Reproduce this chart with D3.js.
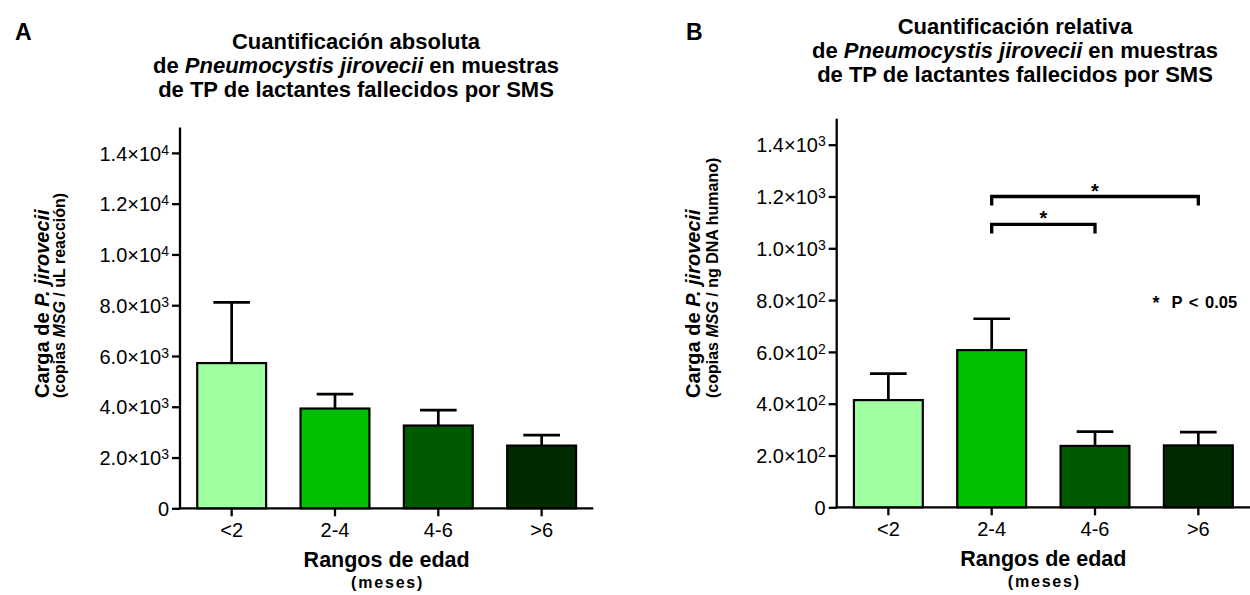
<!DOCTYPE html>
<html>
<head>
<meta charset="utf-8">
<script src="https://cdn.jsdelivr.net/npm/d3@7"></script>
<style>
  body { margin: 0; background: #fff; }
  text { font-family: "Liberation Sans", Arial, sans-serif; fill: #000; }
</style>
</head>
<body>
<svg id="chart" width="1250" height="595"></svg>
<script>
// age ranges (months)
const categories = ["<2", "2-4", "4-6", ">6"];
const barColors = ["rgb(160,255,160)", "rgb(0,192,0)", "rgb(0,90,0)", "rgb(0,42,0)"];

// panel A: absolute quantification (copies MSG / uL reaction)
const absMeans = [5720, 3930, 3260, 2470];
const absUpper = [8110, 4500, 3870, 2880];   // mean + SEM
const absTicks = [0, 2000, 4000, 6000, 8000, 10000, 12000, 14000];

// panel B: relative quantification (copies MSG / ng human DNA)
const relMeans = [414, 607, 237, 239];
const relUpper = [516, 728, 292, 290];
const relTicks = [0, 200, 400, 600, 800, 1000, 1200, 1400];
const relBrackets = [
  { from: "2-4", to: "4-6", level: 1092 },
  { from: "2-4", to: ">6", level: 1200 }
];

const svg = d3.select("#chart");

// "6.0x10^3" style labels, exponent as a real superscript
function sciLabel(sel) {
  sel.each(function (v) {
    const t = d3.select(this).text("");
    if (v === 0) { t.text("0"); return; }
    const e = Math.floor(Math.log10(v));
    const m = (v / Math.pow(10, e)).toFixed(1);
    t.append("tspan").text(m + "×10");
    t.append("tspan").attr("dy", -6).attr("font-size", 14).text(e);
  });
}

function drawPanel(cfg) {
  const { left, right, bottom, top, max, means, upper, ticks } = cfg;

  const x = d3.scaleBand()
    .domain(categories)
    .range([left, right])
    .paddingInner(1 / 3)
    .paddingOuter(1 / 6);

  const y = d3.scaleLinear()
    .domain([0, max])
    .range([bottom, top]);

  const g = svg.append("g");

  // y axis
  const yAxis = g.append("g")
    .attr("transform", `translate(${left},0)`)
    .call(d3.axisLeft(y).tickValues(ticks).tickSize(8).tickPadding(3));
  yAxis.select(".domain").attr("stroke", "#000").attr("stroke-width", 2.3)
    .attr("d", `M0,${top}V${bottom + 1}`);
  yAxis.selectAll(".tick line").attr("stroke", "#000").attr("stroke-width", 2.3);
  yAxis.selectAll(".tick text")
    .attr("font-size", 20).attr("dy", "0.36em")
    .attr("font-family", "Liberation Sans, Arial, sans-serif")
    .call(sciLabel);

  // x axis
  const xAxis = g.append("g")
    .attr("transform", `translate(0,${bottom})`)
    .call(d3.axisBottom(x).tickSize(8));
  xAxis.select(".domain").attr("stroke", "#000").attr("stroke-width", 2.3)
    .attr("d", `M${left - 1},0H${right}`);
  xAxis.selectAll(".tick line").attr("stroke", "#000").attr("stroke-width", 2.3);
  xAxis.selectAll(".tick text")
    .attr("font-size", 20).attr("y", 29).attr("dy", 0)
    .attr("font-family", "Liberation Sans, Arial, sans-serif");

  // error bars (upper only)
  const err = g.append("g").attr("stroke", "#000").attr("stroke-width", 2.7);
  categories.forEach((c, i) => {
    const cx = x(c) + x.bandwidth() / 2;
    const cap = x.bandwidth() * 0.266;
    err.append("line").attr("x1", cx).attr("x2", cx).attr("y1", y(means[i])).attr("y2", y(upper[i]));
    err.append("line").attr("x1", cx - cap).attr("x2", cx + cap).attr("y1", y(upper[i])).attr("y2", y(upper[i]));
  });

  // bars
  g.append("g")
    .selectAll("rect")
    .data(categories)
    .join("rect")
    .attr("x", d => x(d))
    .attr("y", (d, i) => y(means[i]))
    .attr("width", x.bandwidth())
    .attr("height", (d, i) => bottom - y(means[i]))
    .attr("fill", (d, i) => barColors[i])
    .attr("stroke", "#000")
    .attr("stroke-width", 2.2);

  // x axis title
  const xc = (left + right) / 2;
  g.append("text").attr("x", xc).attr("y", bottom + 59).attr("text-anchor", "middle")
    .attr("font-size", 21.5).attr("font-weight", "bold").text("Rangos de edad");
  g.append("text").attr("x", xc + 1).attr("y", bottom + 80).attr("text-anchor", "middle")
    .attr("font-size", 16).attr("font-weight", "bold").attr("letter-spacing", 1.8).text("(meses)");

  // y axis title
  const yt = g.append("text")
    .attr("transform", `translate(${cfg.yTitleX},398) rotate(-90)`)
    .attr("font-size", 20).attr("font-weight", "bold");
  yt.append("tspan").text("Carga de ");
  yt.append("tspan").attr("font-style", "italic").text("P. jirovecii");
  const ys = g.append("text")
    .attr("transform", `translate(${cfg.ySubX},398) rotate(-90)`)
    .attr("font-size", 16).attr("font-weight", "bold");
  ys.append("tspan").text("(copias ");
  ys.append("tspan").attr("font-style", "italic").text("MSG");
  ys.append("tspan").text(cfg.unit);

  // title
  const t = g.append("text").attr("text-anchor", "middle").attr("font-size", 22)
    .attr("font-weight", "bold");
  t.append("tspan").attr("x", cfg.titleX).attr("y", cfg.titleY).text(cfg.title);
  t.append("tspan").attr("x", cfg.titleX).attr("dy", 24).text("de ");
  t.append("tspan").attr("font-style", "italic").text("Pneumocystis jirovecii");
  t.append("tspan").text(" en muestras");
  t.append("tspan").attr("x", cfg.titleX).attr("dy", 24).text("de TP de lactantes fallecidos por SMS");

  // panel letter
  g.append("text").attr("x", cfg.letterX).attr("y", 40)
    .attr("font-family", "Liberation Serif, Times New Roman, serif")
    .attr("font-size", 23).attr("font-weight", "bold").text(cfg.letter);

  return { x, y, g };
}

drawPanel({
  left: 180, right: 593.3, bottom: 508.3, top: 127.5, max: 15000,
  means: absMeans, upper: absUpper, ticks: absTicks,
  yTitleX: 48.5, ySubX: 65, unit: " / uL reacción)",
  title: "Cuantificación absoluta", titleX: 356, titleY: 49, letter: "A", letterX: 15
});

const pB = drawPanel({
  left: 836.7, right: 1250, bottom: 507.3, top: 118.8, max: 1500,
  means: relMeans, upper: relUpper, ticks: relTicks,
  yTitleX: 700, ySubX: 717.5, unit: " / ng DNA humano)",
  title: "Cuantificación relativa", titleX: 1015, titleY: 34, letter: "B", letterX: 686
});

// significance brackets
const bx = c => pB.x(c) + pB.x.bandwidth() / 2;
const br = pB.g.append("g");
relBrackets.forEach(b => {
  const yy = pB.y(b.level);
  br.append("path")
    .attr("d", `M${bx(b.from)},${yy + 9}V${yy}H${bx(b.to)}V${yy + 9}`)
    .attr("fill", "none").attr("stroke", "#000").attr("stroke-width", 3.3);
  br.append("text").attr("x", (bx(b.from) + bx(b.to)) / 2).attr("y", yy + 1)
    .attr("text-anchor", "middle").attr("font-size", 20).attr("font-weight", "bold").text("*");
});
pB.g.append("text").attr("x", 1156).attr("y", 309).attr("text-anchor", "middle")
  .attr("font-size", 18).attr("font-weight", "bold").text("*");
pB.g.append("text").attr("x", 1171.5).attr("y", 307.5)
  .attr("font-size", 16.5).attr("font-weight", "bold").attr("word-spacing", 2).text("P < 0.05");
</script>
</body>
</html>
